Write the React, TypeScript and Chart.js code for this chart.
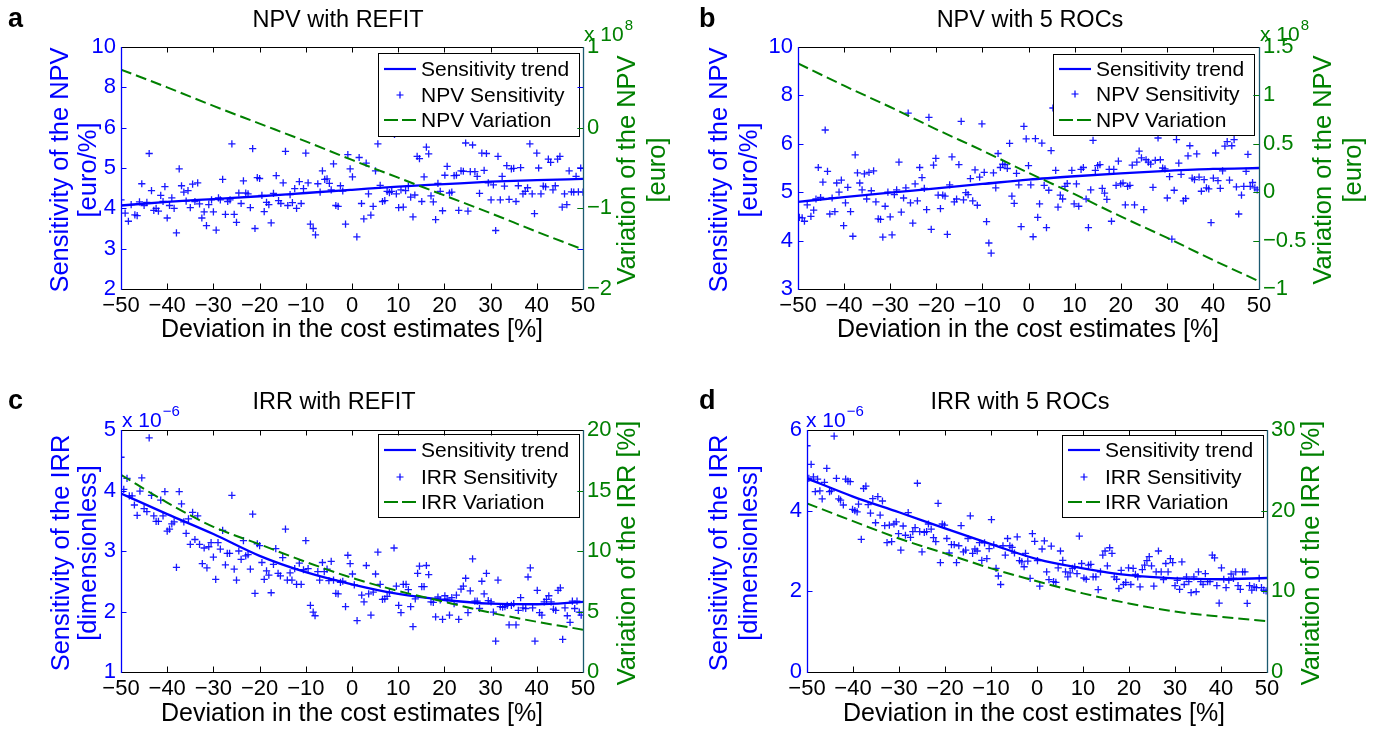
import React, { useEffect, useRef } from 'react';
import { Chart, registerables } from 'chart.js';

Chart.register(...registerables);

const W = 1377;
const H = 729;
const FONT = "'Liberation Sans', Arial, Helvetica, sans-serif";
const BLUE = '#0000ff';
const GREEN = '#008000';
const TEAL = '#1b5a70';

type Pt = [number, number];

// ---------- data ----------
const trendX: number[] = [-50, -40, -30, -20, -10, 0, 10, 20, 30, 40, 50];

// Panel a: NPV with REFIT (sensitivity in euro/%, variation in 1e8 euro)
const sensA: Pt[] = [[-50,4.21],[-49.1,3.88],[-48.4,3.68],[-47.8,4.09],[-47,3.84],[-46.5,3.82],[-46,4.16],[-45.5,4.61],[-45,4.07],[-44.4,4.15],[-43.9,5.36],[-43.4,4.44],[-42.9,3.95],[-42.4,4.0],[-41.9,3.93],[-41.4,4.32],[-40.9,4.17],[-40.5,4.54],[-40,3.76],[-39.5,4.07],[-39,4.26],[-38.5,4.0],[-38,3.39],[-37.4,4.98],[-36.9,4.56],[-36.4,4.4],[-35.9,4.18],[-35.5,4.44],[-35,4.02],[-34.5,4.6],[-34,4.17],[-33.4,4.63],[-33,4.11],[-32.5,3.76],[-32,3.91],[-31.5,3.57],[-31,4.09],[-30.4,4.21],[-30,3.91],[-29.4,3.46],[-28.9,4.26],[-28.5,4.21],[-28,4.72],[-27.4,3.85],[-26.9,4.17],[-26.4,4.21],[-26,5.6],[-25.5,3.85],[-25,3.65],[-24.5,4.38],[-24,4.12],[-23.5,4.68],[-23,4.38],[-22.5,4.36],[-22,4.02],[-21.5,5.48],[-21,3.5],[-20.5,4.76],[-20,4.74],[-19.5,4.32],[-19,3.92],[-18.5,4.15],[-18,4.09],[-17.5,3.64],[-17,4.37],[-16.4,4.81],[-15.9,4.19],[-15.4,4.12],[-14.9,4.63],[-14.4,5.41],[-13.9,4.07],[-13.4,4.34],[-12.9,4.14],[-12.4,4.49],[-12,4.0],[-11.4,4.66],[-11,4.12],[-10.5,4.49],[-10,5.37],[-9.5,4.63],[-9,3.61],[-8.4,3.5],[-7.9,3.34],[-7.4,4.61],[-6.9,4.4],[-6.4,4.93],[-5.9,4.72],[-5.4,4.73],[-4.9,4.62],[-4.5,4.46],[-4,5.1],[-3.5,4.07],[-3,4.05],[-2.5,4.56],[-2,4.43],[-1.4,3.61],[-0.9,5.33],[-0.4,4.98],[0.1,4.78],[1.05,3.29],[1.55,5.26],[2.06,4.12],[2.56,3.74],[3.07,5.12],[3.57,4.36],[4.08,3.83],[4.58,4.05],[5.09,4.93],[5.6,5.6],[6.1,4.57],[6.6,4.17],[7.1,4.19],[7.6,4.42],[8.1,4.39],[8.6,4.42],[9.2,5.83],[9.6,4.36],[10.1,4.02],[10.6,4.46],[11.1,4.03],[11.6,4.44],[12.2,4.55],[12.7,4.28],[13.2,3.79],[13.6,4.33],[14.1,5.29],[14.6,5.23],[15.1,4.17],[15.6,4.78],[16.1,5.52],[16.6,5.35],[17.1,4.31],[17.6,4.16],[18.1,3.72],[18.6,4.62],[19.1,4.42],[19.6,3.94],[20.1,4.82],[20.6,5.04],[21.1,4.38],[21.6,4.4],[22.1,4.81],[22.6,4.82],[23.1,3.95],[23.6,4.93],[24.1,4.92],[24.6,5.62],[25.1,3.93],[25.6,4.91],[26.1,5.57],[26.6,4.91],[27.1,4.79],[27.6,4.37],[28.1,5.37],[28.6,4.94],[29.1,5.36],[29.5,4.63],[30.1,4.21],[30.6,4.58],[31.1,3.45],[31.6,5.29],[32.1,4.21],[32.5,4.79],[33,4.55],[33.5,5.06],[34,4.22],[34.5,4.98],[35,4.99],[35.5,4.17],[36,4.56],[36.5,5.01],[37,4.36],[37.5,4.42],[38,4.51],[38.5,5.6],[39,4.36],[39.5,3.87],[40,5.37],[40.4,5.0],[40.9,4.36],[41.4,4.55],[41.9,4.53],[42.5,5.22],[43,5.14],[43.5,4.46],[44,4.56],[44.5,5.22],[45,5.29],[45.5,4.03],[46,4.36],[46.5,4.09],[47,4.93],[47.5,4.41],[48,4.4],[48.5,4.79],[49,4.41],[49.5,5.0],[50,4.4]];
const trendA: number[] = [4.07, 4.16, 4.23, 4.30, 4.38, 4.46, 4.54, 4.60, 4.66, 4.70, 4.73];
const varA: number[] = [0.72, 0.50, 0.27, 0.05, -0.17, -0.40, -0.62, -0.84, -1.06, -1.29, -1.51];
const leftTicksA: number[] = [2, 3, 4, 5, 6, 8, 10];

// Panel b: NPV with 5 ROCs
const sensB: Pt[] = [[-49.7,4.48],[-49.1,4.47],[-48.6,4.4],[-48,4.74],[-47.2,4.5],[-46.6,4.63],[-46.1,4.86],[-45.6,5.51],[-45.1,4.89],[-44.6,5.21],[-44.1,6.57],[-43.6,5.43],[-43.1,4.55],[-42.6,4.88],[-42,4.6],[-41.6,5.19],[-41.1,5.0],[-40.6,5.25],[-40.1,4.31],[-39.7,4.78],[-39.2,5.1],[-38.6,4.6],[-38.1,4.09],[-37.6,5.77],[-37.1,5.4],[-36.6,5.19],[-36.1,5.05],[-35.6,5.38],[-35.1,4.86],[-34.6,5.41],[-34.1,5.03],[-33.6,5.44],[-33.1,4.8],[-32.6,4.45],[-32.1,4.44],[-31.6,4.07],[-31.1,4.71],[-30.5,5.0],[-30,4.49],[-29.6,4.12],[-29.1,4.95],[-28.6,5.05],[-28.1,5.62],[-27.6,4.59],[-27.1,4.88],[-26.6,5.09],[-26.1,7.27],[-25.6,4.78],[-25.1,4.36],[-24.6,5.17],[-24.1,4.82],[-23.6,5.51],[-23.1,5.3],[-22.6,5.08],[-22.1,4.64],[-21.6,7.09],[-21.1,4.23],[-20.6,5.56],[-20.1,5.7],[-19.6,4.94],[-19.1,4.66],[-18.6,4.94],[-18.1,4.92],[-17.6,4.13],[-17.1,5.15],[-16.6,5.73],[-16.1,4.8],[-15.6,4.86],[-15.1,5.57],[-14.6,6.93],[-14.1,4.84],[-13.6,4.99],[-13.1,4.95],[-12.6,5.28],[-12.1,4.82],[-11.6,5.46],[-11.1,4.73],[-10.6,5.31],[-10.1,6.82],[-9.6,5.41],[-9.1,4.39],[-8.6,3.95],[-8.1,3.74],[-7.6,5.4],[-7.1,5.09],[-6.6,5.8],[-6.1,5.51],[-5.6,5.58],[-5.1,5.57],[-4.6,5.49],[-4.1,6.02],[-3.6,4.92],[-3.1,4.77],[-2.6,5.39],[-2.1,5.15],[-1.6,4.29],[-1,6.72],[-0.5,6.2],[0,5.55],[0.5,5.15],[1,4.08],[1.5,6.21],[2,4.48],[2.4,4.76],[2.9,6.03],[3.4,5.14],[3.9,4.27],[4.4,5.04],[4.9,5.86],[5.3,7.48],[5.9,5.45],[6.4,4.69],[6.9,4.94],[7.4,4.86],[7.9,5.12],[8.4,5.18],[9.4,5.45],[9.9,4.76],[10.4,5.17],[10.9,4.71],[11.4,5.47],[11.9,5.51],[12.5,4.86],[13,4.27],[13.5,5.05],[14,6.14],[14.5,5.45],[15,5.55],[15.5,5.57],[16,5.08],[16.5,4.98],[17,4.85],[17.5,5.47],[18,4.4],[18.5,5.47],[19,5.14],[19.5,5.64],[20,5.17],[20.5,5.19],[21,4.74],[21.5,5.12],[22,5.14],[22.5,5.56],[23,4.74],[23.5,5.62],[24,5.85],[24.5,5.71],[25,4.64],[25.5,5.67],[26,5.62],[26.5,5.58],[27,5.1],[27.5,5.66],[28.1,6.24],[28.6,5.67],[29.1,5.5],[29.6,5.48],[30.1,4.88],[30.6,5.32],[31.1,4.03],[31.6,5.04],[32.1,6.17],[32.6,5.6],[33.1,5.37],[33.6,4.82],[34.1,4.87],[34.6,5.75],[35,5.96],[35.5,5.29],[36,5.26],[36.5,5.79],[37,5.31],[37.5,5.02],[38.1,5.26],[38.6,5.09],[39.1,5.07],[39.6,4.37],[40.1,5.29],[40.6,5.81],[41.1,5.24],[41.6,5.08],[42.1,5.44],[42.6,5.95],[43.1,6.09],[43.6,5.25],[44.1,5.96],[44.6,6.17],[45.1,5.11],[45.6,4.55],[46.2,4.94],[46.7,5.12],[47.2,5.43],[47.6,5.78],[48.1,5.12],[48.6,5.2],[49.1,5.09],[49.6,5.05]];
const trendB: number[] = [4.80, 4.90, 4.99, 5.08, 5.17, 5.26, 5.33, 5.39, 5.44, 5.48, 5.50];
const varB: number[] = [1.33, 1.10, 0.88, 0.65, 0.43, 0.20, -0.02, -0.25, -0.47, -0.70, -0.92];
const leftTicksB: number[] = [3, 4, 5, 6, 8, 10];

// Panel c: IRR with REFIT (sensitivity in 1e-6, variation in %)
const sensC: Pt[] = [[-50,4.55],[-49.4,4.02],[-48.7,4.2],[-48.2,3.91],[-47.6,3.91],[-47.1,3.76],[-46.5,3.59],[-45.9,3.99],[-45.5,4.21],[-45,3.7],[-44.4,3.65],[-43.9,4.87],[-43.4,3.92],[-42.9,3.58],[-42.4,3.49],[-41.9,3.49],[-41.4,3.84],[-40.9,3.58],[-40.5,3.98],[-40,3.33],[-39.5,3.36],[-39,3.45],[-38.5,3.48],[-38,2.73],[-37.4,3.98],[-36.9,3.78],[-36.4,3.48],[-35.9,3.29],[-35.4,3.53],[-35,3.11],[-34.5,3.64],[-34,3.19],[-33.4,3.58],[-33,3.11],[-32.4,2.79],[-32,3.05],[-31.4,2.72],[-31,3.07],[-30.5,3.14],[-30,2.9],[-29.5,2.53],[-29,3.14],[-28.5,3.03],[-28,3.34],[-27.4,2.77],[-27,2.96],[-26.5,2.96],[-26,3.92],[-25.5,2.7],[-25,2.52],[-24.5,3.0],[-24,2.86],[-23.5,3.17],[-23,2.92],[-22.5,2.94],[-22,2.7],[-21.5,3.61],[-21,2.3],[-20.5,3.12],[-20,3.09],[-19.5,2.81],[-19,2.53],[-18.5,2.67],[-18,2.6],[-17.5,2.31],[-17,2.78],[-16.5,3.04],[-16,2.63],[-15.5,2.59],[-15,2.89],[-14.4,3.36],[-14,2.52],[-13.4,2.64],[-13,2.52],[-12.4,2.71],[-12,2.45],[-11.4,2.8],[-11,2.45],[-10.5,2.69],[-10,3.17],[-9.5,2.71],[-9,2.1],[-8.4,1.99],[-8,1.93],[-7.4,2.66],[-7,2.52],[-6.4,2.81],[-6,2.66],[-5.4,2.7],[-5,2.51],[-4.5,2.83],[-4,2.52],[-3.5,2.3],[-3,2.29],[-2.5,2.48],[-2,2.5],[-1.4,2.08],[-0.9,2.93],[-0.4,2.79],[0.1,2.62],[0.5,2.44],[1.1,1.85],[2.1,2.27],[2.6,2.16],[3.1,2.76],[3.6,2.29],[4.1,1.94],[4.6,2.32],[5.1,2.62],[5.6,2.98],[6.1,2.45],[6.6,2.2],[7.1,2.21],[7.6,2.25],[8.1,2.32],[9.1,3.05],[9.6,2.42],[10.1,2.1],[10.6,1.98],[11.1,2.45],[11.7,2.45],[12.2,2.36],[12.7,2.08],[13.2,1.75],[13.7,2.21],[14.2,2.63],[14.6,2.75],[15.1,2.41],[15.6,2.41],[16.1,2.76],[16.6,2.61],[17.1,2.16],[17.6,2.15],[18.1,1.91],[18.6,2.24],[19.1,2.19],[19.6,1.87],[20.1,2.26],[20.6,2.21],[21.1,1.94],[21.6,2.23],[22.1,2.13],[22.6,2.27],[23.1,1.87],[23.6,2.37],[24.1,2.42],[24.6,2.55],[25.1,1.98],[25.6,2.34],[26.1,2.87],[26.6,2.17],[27.1,2.17],[27.6,2.05],[28.1,2.5],[28.6,2.29],[29.1,2.63],[29.5,2.18],[30.1,2.16],[30.6,1.99],[31.1,1.51],[31.6,2.52],[32.1,2.08],[32.6,2.07],[33.1,2.08],[33.6,2.1],[34,1.78],[34.5,2.1],[35,2.13],[35.5,1.78],[36,2.02],[36.5,2.23],[37,2.06],[37.6,2.05],[38.1,2.57],[38.6,2.72],[39.1,2.06],[39.6,1.51],[40.1,2.35],[40.6,1.98],[41.1,1.94],[41.6,2.16],[42.1,2.2],[42.6,2.26],[43.1,2.16],[43.6,2.04],[44.1,2.02],[44.6,2.35],[45.1,2.39],[45.6,1.54],[46.1,2.06],[46.6,1.93],[47.2,1.82],[47.7,2.17],[48.2,2.05],[48.7,2.17],[49.2,1.99],[49.6,1.94]];
const trendC: number[] = [3.95, 3.61, 3.28, 2.92, 2.65, 2.45, 2.29, 2.19, 2.13, 2.12, 2.16];
const varC: number[] = [16.3, 14.0, 12.0, 10.55, 9.1, 7.78, 6.7, 5.8, 4.9, 4.15, 3.5];

// Panel d: IRR with 5 ROCs
const sensD: Pt[] = [[-50,5.61],[-49.6,4.8],[-49.1,5.15],[-48.6,4.84],[-48.2,4.47],[-47.7,4.78],[-47.2,4.49],[-46.7,4.29],[-46.2,4.7],[-45.7,5.05],[-45.1,4.47],[-44.7,4.49],[-44.1,5.85],[-43.6,4.8],[-43.1,4.29],[-42.7,4.26],[-42.1,4.14],[-41.6,4.78],[-41.1,4.73],[-40.6,4.72],[-40.1,4.03],[-39.6,4.0],[-39.1,3.97],[-38.8,4.16],[-38.2,3.29],[-37.7,4.55],[-37.2,4.61],[-36.7,4.15],[-36.2,3.94],[-35.7,4.3],[-35.1,3.7],[-34.6,4.35],[-34.1,3.89],[-33.6,4.24],[-33.1,3.63],[-32.6,3.21],[-32.1,3.64],[-31.6,3.23],[-31.1,3.67],[-30.6,3.72],[-30.1,3.43],[-29.6,3.02],[-29.1,3.62],[-28.6,3.39],[-28,3.95],[-27.5,3.34],[-27,3.48],[-26.5,3.58],[-26,4.68],[-25.5,3.48],[-25,2.98],[-24.5,3.46],[-24,3.48],[-23.6,3.67],[-23,3.54],[-22.5,3.33],[-22,3.23],[-21.5,4.18],[-21,2.71],[-20.6,3.67],[-20.1,3.64],[-19.6,3.31],[-19.1,2.95],[-18.6,3.16],[-18,3.16],[-17.5,2.71],[-17,3.13],[-16.5,3.63],[-16,2.98],[-15.5,3.02],[-15,3.31],[-14.5,3.87],[-14,2.94],[-13.5,3.05],[-13,3.0],[-12.5,3.21],[-12,2.77],[-11.4,3.2],[-10.9,2.81],[-10.4,3.06],[-9.9,3.78],[-9.4,3.15],[-8.9,2.57],[-8.4,2.38],[-7.9,2.17],[-7.4,3.13],[-6.9,2.9],[-6.4,3.31],[-5.9,3.13],[-5.4,3.09],[-4.9,2.95],[-4.3,3.35],[-3.8,2.76],[-3.3,2.73],[-2.8,2.61],[-2.5,2.94],[-2,2.75],[-1.5,2.32],[-1,3.43],[-0.5,3.24],[0.1,2.76],[0.6,2.13],[1.1,3.05],[1.6,3.25],[2.1,2.48],[2.6,2.29],[3.1,3.12],[3.6,2.24],[4.1,2.22],[4.6,2.58],[5.1,3.0],[5.6,2.77],[6.2,2.48],[6.7,2.36],[7.2,2.46],[7.7,2.57],[8.2,2.61],[8.7,2.44],[9.2,3.37],[9.7,2.69],[10.2,2.33],[10.7,2.3],[11.2,2.65],[11.7,2.67],[12.2,2.36],[12.8,2.36],[13.3,2.04],[13.8,2.48],[14.3,2.9],[14.8,3.0],[15.3,2.63],[15.8,3.08],[16.3,2.94],[16.8,2.36],[17.3,2.3],[17.8,2.07],[18.3,2.52],[18.8,2.17],[19.3,2.22],[19.9,2.58],[20.4,2.17],[20.9,2.57],[21.4,2.42],[21.9,2.36],[22.4,2.11],[22.9,2.54],[23.4,2.65],[23.9,2.76],[24.4,2.86],[24.9,2.63],[25.4,2.13],[25.9,2.48],[26.4,3.0],[27,2.48],[27.5,2.29],[28,2.69],[28.5,2.48],[29,2.81],[29.5,2.71],[30,2.14],[30.5,2.27],[31,2.05],[31.5,2.73],[32,2.17],[32.5,2.36],[33,2.24],[33.5,1.97],[34.1,2.36],[34.6,1.99],[35.1,2.48],[35.6,2.24],[36.1,2.17],[36.6,2.44],[37.1,2.24],[37.6,2.24],[38.1,2.9],[38.6,2.83],[39.1,2.14],[39.6,1.71],[40.1,2.58],[40.6,2.3],[41.1,2.09],[41.7,2.28],[42.2,2.43],[42.7,2.32],[43.2,2.48],[43.7,2.14],[44.2,2.05],[44.7,2.48],[45.2,2.48],[45.7,1.7],[46.2,2.14],[46.7,2.03],[47.2,2.11],[47.7,2.09],[48.3,2.32],[48.8,2.09],[49.3,2.03],[49.8,2.01]];
const trendD: number[] = [4.80, 4.35, 3.96, 3.56, 3.17, 2.80, 2.57, 2.40, 2.32, 2.30, 2.33];
const varD: number[] = [20.9, 18.7, 16.55, 14.7, 12.85, 11.25, 9.75, 8.5, 7.5, 6.85, 6.3];

// ---------- layout / config ----------
interface Area { l: number; r: number; t: number; b: number; }
interface PanelCfg {
  id: string;
  letter: string; letterPos: [number, number];
  title: string; titlePos: [number, number];
  xLabelPos: [number, number];
  area: Area;
  sens: Pt[]; trend: number[]; variation: number[];
  leftTickVals?: number[];
  left: { min: number; max: number; step: number };
  right: { min: number; max: number; step: number };
  leftTitle: string[]; leftTitleX: number[];
  rightTitle: string[]; rightTitleX: number[];
  expo: { text: string; sup: string; x: number; y: number; color: string };
  legend: { x: number; y: number; w: number; h: number; rows: number[] };
  names: string[];
}

const panels: PanelCfg[] = [
  {
    id: 'a', letter: 'a', letterPos: [8, 27], title: 'NPV with REFIT', titlePos: [338, 27],
    xLabelPos: [352, 337], area: { l: 121, r: 583, t: 47, b: 289 },
    sens: sensA, trend: trendA, variation: varA, leftTickVals: leftTicksA,
    left: { min: 0, max: 6, step: 1 }, right: { min: -2, max: 1, step: 1 },
    leftTitle: ['Sensitivity of the NPV', '[euro/%]'], leftTitleX: [61, 89],
    rightTitle: ['Variation of the NPV', '[euro]'], rightTitleX: [628, 658],
    expo: { text: 'x 10', sup: '8', x: 584, y: 41, color: GREEN },
    legend: { x: 378, y: 53, w: 201, h: 83, rows: [69, 95, 120] },
    names: ['Sensitivity trend', 'NPV Sensitivity', 'NPV Variation'],
  },
  {
    id: 'b', letter: 'b', letterPos: [699, 27], title: 'NPV with 5 ROCs', titlePos: [1030, 27],
    xLabelPos: [1028, 337], area: { l: 798, r: 1259, t: 47, b: 289 },
    sens: sensB, trend: trendB, variation: varB, leftTickVals: leftTicksB,
    left: { min: 0, max: 5, step: 1 }, right: { min: -1, max: 1.5, step: 0.5 },
    leftTitle: ['Sensitivity of the NPV', '[euro/%]'], leftTitleX: [720, 750],
    rightTitle: ['Variation of the NPV', '[euro]'], rightTitleX: [1324, 1354],
    expo: { text: 'x 10', sup: '8', x: 1260, y: 41, color: GREEN },
    legend: { x: 1053, y: 54, w: 201, h: 81, rows: [69, 94, 120] },
    names: ['Sensitivity trend', 'NPV Sensitivity', 'NPV Variation'],
  },
  {
    id: 'c', letter: 'c', letterPos: [8, 409], title: 'IRR with REFIT', titlePos: [334, 409],
    xLabelPos: [352, 721], area: { l: 121, r: 583, t: 430, b: 672 },
    sens: sensC, trend: trendC, variation: varC,
    left: { min: 1, max: 5, step: 1 }, right: { min: 0, max: 20, step: 5 },
    leftTitle: ['Sensitivity of the IRR', '[dimensionless]'], leftTitleX: [62, 89],
    rightTitle: ['Variation of the IRR [%]'], rightTitleX: [628],
    expo: { text: 'x 10', sup: '\u22126', x: 122, y: 427, color: BLUE },
    legend: { x: 378, y: 434, w: 201, h: 83, rows: [450, 477, 502] },
    names: ['Sensitivity trend', 'IRR Sensitivity', 'IRR Variation'],
  },
  {
    id: 'd', letter: 'd', letterPos: [699, 409], title: 'IRR with 5 ROCs', titlePos: [1020, 409],
    xLabelPos: [1034, 721], area: { l: 807, r: 1267, t: 430, b: 672 },
    sens: sensD, trend: trendD, variation: varD,
    left: { min: 0, max: 6, step: 2 }, right: { min: 0, max: 30, step: 10 },
    leftTitle: ['Sensitivity of the IRR', '[dimensionless]'], leftTitleX: [720, 750],
    rightTitle: ['Variation of the IRR [%]'], rightTitleX: [1312],
    expo: { text: 'x 10', sup: '\u22126', x: 806, y: 427, color: BLUE },
    legend: { x: 1062, y: 435, w: 201, h: 82, rows: [450, 477, 502] },
    names: ['Sensitivity trend', 'IRR Sensitivity', 'IRR Variation'],
  },
];

const LEFT_W = 60;
const RIGHT_W = 60;
const X_H = 40;
const TICK_FONT = 22;

function fmtNum(v: number): string {
  const s = String(Math.round(v * 100) / 100);
  return v < 0 ? '\u2212' + s.slice(1) : s;
}

function toIdx(v: number, ticks?: number[]): number {
  if (!ticks) return v;
  for (let i = 0; i < ticks.length - 1; i++) {
    if (v <= ticks[i + 1] || i === ticks.length - 2) {
      return i + (v - ticks[i]) / (ticks[i + 1] - ticks[i]);
    }
  }
  return v;
}

function PanelChart({ cfg }: { cfg: PanelCfg }) {
  const ref = useRef<HTMLCanvasElement>(null);
  useEffect(() => {
    const canvas = ref.current;
    if (!canvas) return;
    const A = cfg.area;
    const tv = cfg.leftTickVals;

    const extras = {
      id: 'extras_' + cfg.id,
      afterDatasetsDraw(chart: any) {
        const ctx: CanvasRenderingContext2D = chart.ctx;
        const xs = chart.scales.x;
        const yl = chart.scales.y;
        const yr = chart.scales.y2;
        ctx.save();

        // legend
        const L = cfg.legend;
        ctx.fillStyle = '#ffffff';
        ctx.fillRect(L.x, L.y, L.w, L.h);
        ctx.strokeStyle = '#000000';
        ctx.lineWidth = 1;
        ctx.setLineDash([]);
        ctx.strokeRect(L.x + 0.5, L.y + 0.5, L.w, L.h);
        const lx0 = L.x + 6, lx1 = L.x + 38, tx = L.x + 43;
        ctx.strokeStyle = BLUE; ctx.lineWidth = 2.2;
        ctx.beginPath(); ctx.moveTo(lx0, L.rows[0]); ctx.lineTo(lx1, L.rows[0]); ctx.stroke();
        const cx = (lx0 + lx1) / 2;
        ctx.lineWidth = 1.2;
        ctx.beginPath();
        ctx.moveTo(cx - 3.5, L.rows[1]); ctx.lineTo(cx + 3.5, L.rows[1]);
        ctx.moveTo(cx, L.rows[1] - 3.5); ctx.lineTo(cx, L.rows[1] + 3.5);
        ctx.stroke();
        ctx.strokeStyle = GREEN; ctx.lineWidth = 2;
        ctx.setLineDash([14, 4]);
        ctx.beginPath(); ctx.moveTo(lx0, L.rows[2]); ctx.lineTo(lx1, L.rows[2]); ctx.stroke();
        ctx.setLineDash([]);
        ctx.fillStyle = '#000000';
        ctx.font = `21px ${FONT}`;
        ctx.textAlign = 'left';
        ctx.textBaseline = 'middle';
        cfg.names.forEach((n, i) => ctx.fillText(n, tx, L.rows[i] + 1));

        // borders
        ctx.lineWidth = 1;
        ctx.strokeStyle = '#000000';
        ctx.beginPath();
        ctx.moveTo(A.l, A.t + 0.5); ctx.lineTo(A.r, A.t + 0.5);
        ctx.moveTo(A.l, A.b + 0.5); ctx.lineTo(A.r, A.b + 0.5);
        ctx.stroke();
        ctx.strokeStyle = BLUE; ctx.lineWidth = 1.3;
        ctx.beginPath(); ctx.moveTo(A.l + 0.5, A.t); ctx.lineTo(A.l + 0.5, A.b + 1); ctx.stroke();
        ctx.strokeStyle = TEAL;
        ctx.beginPath(); ctx.moveTo(A.r + 0.5, A.t); ctx.lineTo(A.r + 0.5, A.b + 1); ctx.stroke();

        // tick marks (inward)
        const TL = 5.5;
        ctx.lineWidth = 1;
        ctx.strokeStyle = '#000000';
        ctx.beginPath();
        xs.ticks.forEach((t: any) => {
          const px = Math.round(xs.getPixelForValue(t.value)) + 0.5;
          if (px <= A.l + 1 || px >= A.r - 1) return;
          ctx.moveTo(px, A.b); ctx.lineTo(px, A.b - TL);
          ctx.moveTo(px, A.t); ctx.lineTo(px, A.t + TL);
        });
        ctx.stroke();
        ctx.strokeStyle = BLUE;
        ctx.beginPath();
        yl.ticks.forEach((t: any) => {
          const py = Math.round(yl.getPixelForValue(t.value)) + 0.5;
          if (py <= A.t + 1 || py >= A.b - 1) return;
          ctx.moveTo(A.l, py); ctx.lineTo(A.l + TL, py);
          ctx.moveTo(A.r, py); ctx.lineTo(A.r - TL, py);
        });
        ctx.stroke();
        ctx.strokeStyle = GREEN;
        ctx.beginPath();
        yr.ticks.forEach((t: any) => {
          const py = Math.round(yr.getPixelForValue(t.value)) + 0.5;
          if (py <= A.t + 1 || py >= A.b - 1) return;
          ctx.moveTo(A.r, py); ctx.lineTo(A.r - TL, py);
        });
        ctx.stroke();

        // panel letter
        ctx.fillStyle = '#000000';
        ctx.textBaseline = 'alphabetic';
        ctx.textAlign = 'left';
        ctx.font = `bold 27px ${FONT}`;
        ctx.fillText(cfg.letter, cfg.letterPos[0], cfg.letterPos[1]);

        // title
        ctx.textAlign = 'center';
        ctx.font = `23.5px ${FONT}`;
        ctx.fillText(cfg.title, cfg.titlePos[0], cfg.titlePos[1]);

        // x label
        ctx.font = `25px ${FONT}`;
        ctx.fillText('Deviation in the cost estimates [%]', cfg.xLabelPos[0], cfg.xLabelPos[1]);

        // y titles (rotated, reading bottom to top)
        const yc = (A.t + A.b) / 2;
        ctx.font = `25.5px ${FONT}`;
        ctx.textBaseline = 'middle';
        ctx.fillStyle = BLUE;
        cfg.leftTitle.forEach((s, i) => {
          ctx.save();
          ctx.translate(cfg.leftTitleX[i], yc + 2);
          ctx.rotate(-Math.PI / 2);
          ctx.fillText(s, 0, 0);
          ctx.restore();
        });
        ctx.fillStyle = GREEN;
        cfg.rightTitle.forEach((s, i) => {
          ctx.save();
          ctx.translate(cfg.rightTitleX[i], yc + 2);
          ctx.rotate(-Math.PI / 2);
          ctx.fillText(s, 0, 0);
          ctx.restore();
        });

        // exponent label
        const E = cfg.expo;
        ctx.fillStyle = E.color;
        ctx.textAlign = 'left';
        ctx.textBaseline = 'alphabetic';
        ctx.font = `21px ${FONT}`;
        ctx.fillText(E.text, E.x, E.y);
        const w = ctx.measureText(E.text).width;
        ctx.font = `15px ${FONT}`;
        ctx.fillText(E.sup, E.x + w + 1, E.y - 11);

        ctx.restore();
      },
    };

    const tickFont = { family: FONT, size: TICK_FONT };
    const chart = new Chart(canvas, {
      type: 'scatter',
      data: {
        datasets: [
          {
            label: 'sens',
            data: cfg.sens.map(([x, y]) => ({ x, y: toIdx(y, tv) })),
            yAxisID: 'y',
            showLine: false,
            pointStyle: 'cross',
            pointRadius: 3.6,
            pointBorderWidth: 1.3,
            borderColor: 'rgba(0,0,255,0.9)',
            backgroundColor: 'rgba(0,0,255,0.9)',
            order: 3,
          } as any,
          {
            label: 'trend',
            data: trendX.map((x, i) => ({ x, y: toIdx(cfg.trend[i], tv) })),
            yAxisID: 'y',
            showLine: true,
            pointRadius: 0,
            borderColor: BLUE,
            borderWidth: 2.3,
            cubicInterpolationMode: 'monotone',
            order: 2,
          } as any,
          {
            label: 'variation',
            data: trendX.map((x, i) => ({ x, y: cfg.variation[i] })),
            yAxisID: 'y2',
            showLine: true,
            pointRadius: 0,
            borderColor: GREEN,
            borderWidth: 2,
            borderDash: [11, 5],
            cubicInterpolationMode: 'monotone',
            order: 1,
          } as any,
        ],
      },
      options: {
        responsive: false,
        animation: false,
        devicePixelRatio: 1,
        events: [],
        layout: {
          padding: {
            left: A.l - LEFT_W,
            right: W - A.r - RIGHT_W,
            top: A.t,
            bottom: H - A.b - X_H,
          },
        },
        plugins: {
          legend: { display: false },
          tooltip: { enabled: false },
          title: { display: false },
        },
        scales: {
          x: {
            type: 'linear',
            position: 'bottom',
            min: -50, max: 50,
            ticks: {
              stepSize: 10, autoSkip: false, maxRotation: 0, padding: 4,
              color: '#000000', font: tickFont,
              callback: (v: any) => fmtNum(Number(v)),
            },
            grid: { display: false, drawTicks: false },
            border: { display: false },
            afterFit: (s: any) => { s.height = X_H; },
          },
          y: {
            type: 'linear',
            position: 'left',
            min: cfg.left.min, max: cfg.left.max,
            ticks: {
              stepSize: cfg.left.step, autoSkip: false, padding: 5,
              color: BLUE, font: tickFont,
              callback: (v: any) => tv ? String(tv[Math.round(Number(v))]) : fmtNum(Number(v)),
            },
            grid: { display: false, drawTicks: false },
            border: { display: false },
            afterFit: (s: any) => { s.width = LEFT_W; },
          },
          y2: {
            type: 'linear',
            position: 'right',
            min: cfg.right.min, max: cfg.right.max,
            ticks: {
              stepSize: cfg.right.step, autoSkip: false, padding: 4,
              color: GREEN, font: tickFont,
              callback: (v: any) => fmtNum(Number(v)),
            },
            grid: { display: false, drawTicks: false },
            border: { display: false },
            afterFit: (s: any) => { s.width = RIGHT_W; },
          },
        },
      } as any,
      plugins: [extras],
    });
    return () => chart.destroy();
  }, [cfg]);
  return (
    <canvas
      ref={ref}
      width={W}
      height={H}
      style={{ position: 'absolute', left: 0, top: 0, width: W, height: H }}
    />
  );
}

export default function App() {
  return (
    <div style={{ position: 'fixed', left: 0, top: 0, width: W, height: H, background: '#ffffff', overflow: 'hidden' }}>
      {panels.map((p) => (
        <PanelChart key={p.id} cfg={p} />
      ))}
    </div>
  );
}
